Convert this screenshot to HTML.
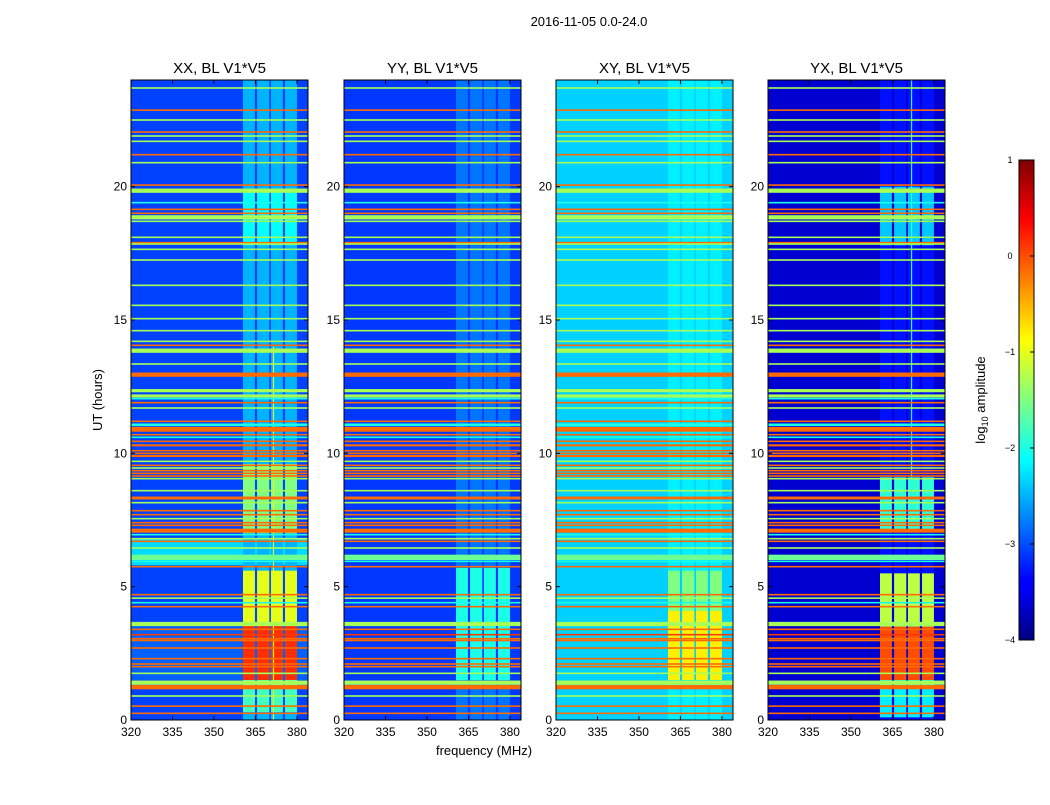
<!DOCTYPE html>
<html><head><meta charset="utf-8"><style>
body{margin:0;background:#fff;font-family:"Liberation Sans","DejaVu Sans",sans-serif}
svg text{font-family:"Liberation Sans","DejaVu Sans",sans-serif}
</style></head><body>
<svg id="chart" width="1050" height="800" viewBox="0 0 1050 800" xmlns="http://www.w3.org/2000/svg">
<defs>
<linearGradient id="jet" x1="0" y1="1" x2="0" y2="0">
<stop offset="0" stop-color="#00007f"/><stop offset="0.11" stop-color="#0000ff"/><stop offset="0.125" stop-color="#0000ff"/>
<stop offset="0.375" stop-color="#00ffff"/><stop offset="0.5" stop-color="#80ff80"/><stop offset="0.625" stop-color="#ffff00"/>
<stop offset="0.875" stop-color="#ff0000"/><stop offset="1" stop-color="#7f0000"/>
</linearGradient>
</defs>
<text x="589" y="26" font-size="13" text-anchor="middle">2016-11-05 0.0-24.0</text>
<text x="102" y="400" font-size="13" text-anchor="middle" transform="rotate(-90 102 400)">UT (hours)</text>
<text x="484" y="755" font-size="13" text-anchor="middle">frequency (MHz)</text>
<rect x="1019" y="160" width="15" height="480" fill="url(#jet)" stroke="#000" stroke-width="1"/>
<text x="985" y="400" font-size="13" text-anchor="middle" transform="rotate(-90 985 400)">log<tspan font-size="9" dy="3">10</tspan><tspan dy="-3"> amplitude</tspan></text>
<g id="panels"></g>
<g id="cbticks"></g>
</svg>
<script>
// ---- data ----
const panelTitles = ["XX, BL V1*V5","YY, BL V1*V5","XY, BL V1*V5","YX, BL V1*V5"];
const panelLeft = [131,344,556,768];
const baseLevel = [-3.05,-3.1,-2.35,-3.6];
const streakLevel = [-2.5,-2.8,-2.2,-3.3];
const xTicks = [320,335,350,365,380];
const yTicks = [0,5,10,15,20];
const cbTicks = [1,0,-1,-2,-3,-4];
// signal columns (MHz)
const colF0 = [360.5,365.6,370.6,375.7];
const colF1 = [364.8,370.0,374.9,380.0];
// RFI lines: hour, log amplitude, thickness (hours)
const lineHours = [23.7,22.87,22.5,22.05,21.9,21.7,21.2,20.9,20.06,19.85,19.4,19.15,19.0,18.85,18.7,18.1,17.9,17.85,17.65,17.25,16.3,15.55,15.05,14.6,14.2,14.05,13.85,13.35,12.95,12.35,12.15,12.05,11.9,11.7,11.2,11.07,10.9,10.7,10.6,10.45,10.3,10.1,10.0,9.9,9.7,9.55,9.45,9.35,9.25,9.15,9.05,8.6,8.35,8.3,8.15,7.85,7.7,7.55,7.4,7.3,7.1,6.95,6.8,6.7,6.45,6.1,5.95,5.75,4.7,4.57,4.4,4.25,3.6,3.4,3.2,3.05,2.98,2.7,2.3,2.1,2.0,1.75,1.4,1.23,0.9,0.52,0.25];
const lineLevels = [-1.3,-0.15,-1.3,-0.15,-1.3,-1.3,-0.15,-1.3,-0.15,-1.3,-2.0,-0.15,-0.15,-1.3,-1.3,-1.3,-0.15,-1.3,-1.3,-1.3,-1.3,-1.3,-1.3,-1.3,-1.3,-0.15,-1.3,-1.3,-0.15,-1.3,-1.3,-2.0,-0.15,-1.3,-0.15,-2.0,-0.15,-0.15,-2.0,-0.15,-0.15,-0.15,-0.15,-0.15,-1.3,-0.15,-1.3,-0.15,-0.15,-0.15,-1.3,-1.3,-0.15,-0.15,-1.3,-0.15,-0.15,-1.3,-0.15,-0.15,-0.15,-2.0,-1.3,-0.15,-1.3,-1.6,-2.0,-0.15,-0.15,-1.3,-2.0,-0.15,-1.3,-0.15,0.1,-0.15,-0.15,-0.15,-0.15,-0.15,-0.15,-1.3,-1.3,-0.15,-1.3,-0.15,-0.15];
const lineWidths = [0.06,0.06,0.06,0.06,0.06,0.06,0.06,0.06,0.06,0.16,0.06,0.06,0.06,0.16,0.06,0.06,0.06,0.06,0.06,0.06,0.06,0.06,0.06,0.06,0.06,0.06,0.16,0.06,0.16,0.12,0.12,0.06,0.06,0.06,0.06,0.1,0.18,0.06,0.06,0.06,0.08,0.06,0.06,0.08,0.06,0.06,0.06,0.06,0.06,0.06,0.06,0.06,0.06,0.06,0.06,0.06,0.06,0.06,0.06,0.06,0.15,0.06,0.06,0.06,0.06,0.2,0.06,0.06,0.06,0.06,0.06,0.06,0.16,0.06,0.06,0.06,0.06,0.06,0.06,0.06,0.06,0.06,0.16,0.16,0.06,0.06,0.06];
// signal blocks (all columns): panel, h0, h1, level
const blockPanel = [0,0,0,0,0,1,2,2,3,3,3,3,3];
const blockH0 = [0.3,1.5,3.55,7.0,17.8,1.5,1.5,4.1,0.1,1.5,3.5,7.1,17.8];
const blockH1 = [1.5,3.55,5.6,9.6,19.9,5.7,4.1,5.6,1.5,3.5,5.5,9.1,20.0];
const blockLevel = [-1.8,0.15,-1.0,-1.5,-2.1,-2.0,-0.8,-1.5,-2.2,0.0,-1.2,-1.9,-2.4];
// full-width bands: panel, h0, h1, level
const bandPanel = [0,0];
const bandH0 = [5.8,1.5];
const bandH1 = [6.8,3.55];
const bandLevel = [-2.3,-2.9];
// vertical narrowband lines: panel, freq, h0, h1, level
const vPanel = [0,3];
const vFreq = [371.3,371.7];
const vH0 = [0,8];
const vH1 = [14,24];
const vLevel = [-1.0,-2.0];

// ---- scales ----
const Y0=720,Y1=80,W=177;
const yS=h=>Y0-(h/24)*(Y0-Y1);
const xS=(p,f)=>panelLeft[p]+(f-320)*(W/64);
function jet(v){const t=Math.max(0,Math.min(1,(v+4)/5));
 const c=x=>Math.round(255*Math.max(0,Math.min(1,x)));
 return `rgb(${c(1.5-Math.abs(4*t-3))},${c(1.5-Math.abs(4*t-2))},${c(1.5-Math.abs(4*t-1))})`;}
const NS="http://www.w3.org/2000/svg";
function el(tag,attrs,parent){const e=document.createElementNS(NS,tag);for(const k in attrs)e.setAttribute(k,attrs[k]);parent.appendChild(e);return e;}
const G=document.getElementById('panels');
for(let p=0;p<4;p++){
 const g=el('g',{},G);
 
 
 const cp=el('clipPath',{id:'cp'+p},g);
 el('rect',{x:panelLeft[p],y:Y1,width:W,height:Y0-Y1},cp);
 const inner=el('g',{'clip-path':'url(#cp'+p+')'},g);
 const bg=el('rect',{x:panelLeft[p],y:Y1,width:W,height:Y0-Y1,fill:jet(baseLevel[p])},inner);
 
 
 for(let i=0;i<bandPanel.length;i++){ if(bandPanel[i]!==p)continue;
  const r=el('rect',{x:panelLeft[p],y:yS(bandH1[i]),width:W,height:yS(bandH0[i])-yS(bandH1[i]),fill:jet(bandLevel[i])},inner);
  
  
 }
 for(let c=0;c<colF0.length;c++){
  const st=el('rect',{x:xS(p,colF0[c]),y:Y1,width:xS(p,colF1[c])-xS(p,colF0[c]),height:Y0-Y1,fill:jet(streakLevel[p])},inner);
  
  
 }
 for(let i=0;i<blockPanel.length;i++){ if(blockPanel[i]!==p)continue;
  for(let c=0;c<colF0.length;c++){
   const r=el('rect',{x:xS(p,colF0[c]),y:yS(blockH1[i]),width:xS(p,colF1[c])-xS(p,colF0[c]),height:yS(blockH0[i])-yS(blockH1[i]),fill:jet(blockLevel[i])},inner);
   
   
  }
 }
 for(let i=0;i<vPanel.length;i++){ if(vPanel[i]!==p)continue;
  const r=el('rect',{x:xS(p,vFreq[i]),y:yS(vH1[i]),width:1.2,height:yS(vH0[i])-yS(vH1[i]),fill:jet(vLevel[i])},inner);
  
  
 }
 for(let i=0;i<lineHours.length;i++){
  const h=lineHours[i],w=lineWidths[i];
  const r=el('rect',{x:panelLeft[p],y:yS(h+w/2),width:W,height:Math.max(1.2,yS(h-w/2)-yS(h+w/2)),fill:jet(lineLevels[i])},inner);
  
  
 }
 el('rect',{x:panelLeft[p],y:Y1,width:W,height:Y0-Y1,fill:'none',stroke:'#000','stroke-width':1},g);
 const t=el('text',{x:panelLeft[p]+W/2,y:73,'font-size':15,'text-anchor':'middle'},g);t.textContent=panelTitles[p];
 
 
 xTicks.forEach(f=>{const x=xS(p,f);
  el('line',{x1:x,x2:x,y1:Y0,y2:Y0-4,stroke:'#000'},g);el('line',{x1:x,x2:x,y1:Y1,y2:Y1+4,stroke:'#000'},g);
  const tt=el('text',{x:x,y:Y0+16,'font-size':12,'text-anchor':'middle'},g);tt.textContent=f;
  
  });
 yTicks.forEach(h=>{const y=yS(h);
  el('line',{x1:panelLeft[p],x2:panelLeft[p]+4,y1:y,y2:y,stroke:'#000'},g);el('line',{x1:panelLeft[p]+W,x2:panelLeft[p]+W-4,y1:y,y2:y,stroke:'#000'},g);
  const tt=el('text',{x:panelLeft[p]-4,y:y+4,'font-size':12,'text-anchor':'end'},g);tt.textContent=h;
  
  });
}
const CB=document.getElementById('cbticks');
cbTicks.forEach(v=>{const y=640-(v+4)/5*480;
 el('line',{x1:1030,x2:1034,y1:y,y2:y,stroke:'#000'},CB);
 const t=el('text',{x:1010,y:y+3,'font-size':9,'text-anchor':'middle'},CB);t.textContent=v<0?'\u2212'+(-v):String(v);
 
 });
</script>
</body></html>
